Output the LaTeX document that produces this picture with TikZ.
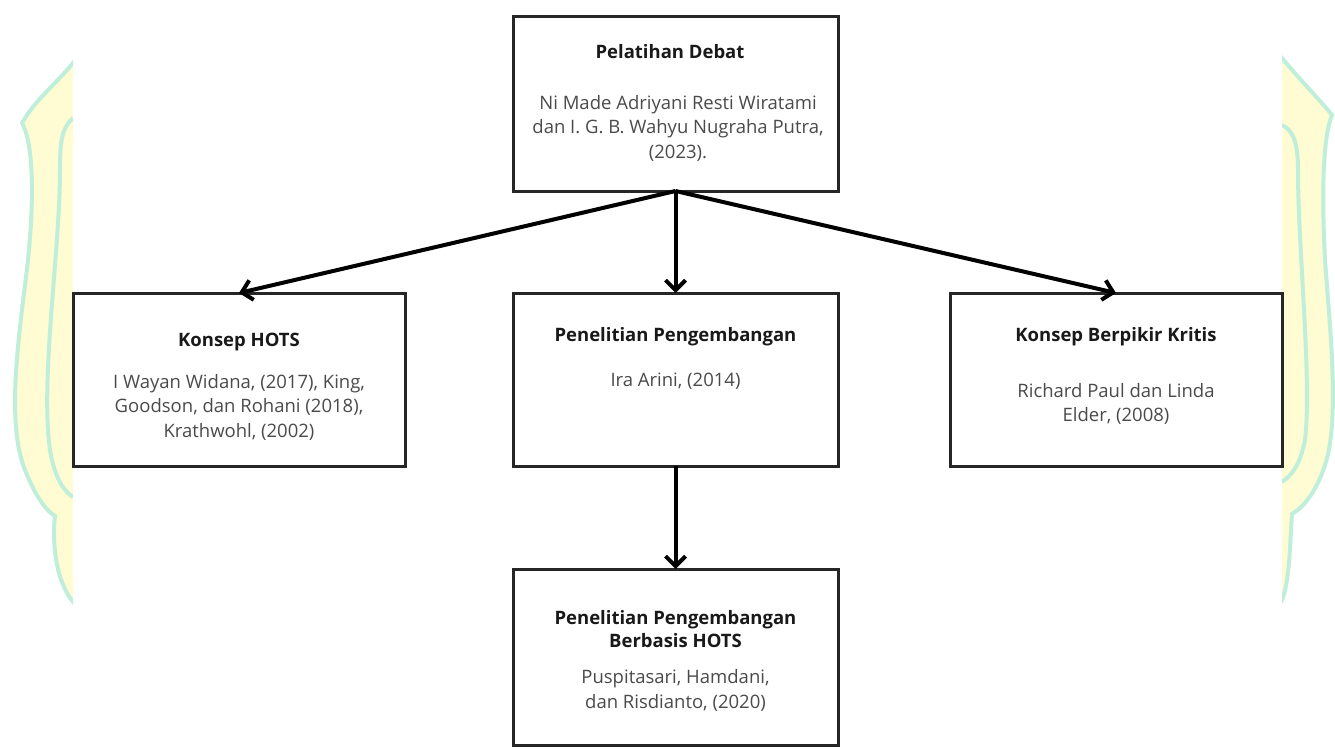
\documentclass[tikz,border=0pt]{standalone}
\usepackage{fontspec}
\setmainfont{Open Sans}
\usetikzlibrary{positioning, arrows.meta}

\definecolor{wmyellow}{HTML}{FFFBD2}
\definecolor{wmaqua}{HTML}{BFEFDA}
\definecolor{refgray}{HTML}{4A4A4A}

\begin{document}
\begin{tikzpicture}[
  x=1pt, y=-1pt,
  font=\fontsize{18.5}{24.5}\selectfont,
  box/.style={draw=black!85, line width=3pt, minimum width=325pt,
              minimum height=174pt, inner sep=0pt, outer sep=0pt},
  widebox/.style={box, minimum width=332pt, minimum height=173pt},
  head/.style={font=\fontsize{18.5}{22.5}\selectfont\bfseries, text=black!90,
               align=center, inner sep=0pt},
  ref/.style={text=refgray, align=center, inner sep=0pt},
  flow/.style={-{Straight Barb[length=10pt, width=20pt]}, line width=4pt},
  wmfill/.style={fill=wmyellow, draw=wmaqua, line width=4pt},
  wmline/.style={draw=wmaqua, line width=4pt},
]
  \useasboundingbox (0,0) rectangle (1335,749);

  % --- watermark, cut at the sides ---
  \begin{scope}
    \clip (0,0) rectangle (73,749);
    \path[wmfill] (80,55) -- (73,63) .. controls (55,85) and (35,100) .. (22,123)
      .. controls (34,145) and (34,200) .. (28,260)
      .. controls (20,330) and (5,420) .. (25,470)
      .. controls (35,495) and (45,510) .. (55,516)
      .. controls (52,540) and (55,580) .. (73,602) -- (80,610) -- cycle;
    \draw[wmline] (73,118) .. controls (62,128) and (60,140) .. (60,170)
      .. controls (60,250) and (40,380) .. (50,450)
      .. controls (55,480) and (65,492) .. (73,497);
  \end{scope}
  \begin{scope}
    \clip (1282,0) rectangle (1335,749);
    \path[wmfill] (1275,50) -- (1282,58) .. controls (1300,80) and (1320,100) .. (1332,115)
      .. controls (1322,140) and (1322,200) .. (1325,260)
      .. controls (1330,330) and (1340,420) .. (1325,465)
      .. controls (1315,495) and (1302,508) .. (1292,514)
      .. controls (1290,540) and (1290,580) .. (1282,600) -- (1275,610) -- cycle;
    \draw[wmline] (1282,125) .. controls (1292,130) and (1298,140) .. (1298,170)
      .. controls (1298,250) and (1312,380) .. (1305,440)
      .. controls (1300,465) and (1292,475) .. (1282,482);
  \end{scope}

  % --- boxes ---
  \node[box] (debat) at (675.5,104) {};
  \node[box, minimum height=173pt, below=102pt of debat] (riset) {};
  \node[widebox, left=108pt of riset] (hots) {};
  \node[widebox, right=112pt of riset] (kritis) {};
  \node[box, minimum height=176pt, below=103pt of riset] (hotsriset) {};

  % --- texts ---
  \node[head] (debathead) at (670,52) {Pelatihan Debat};
  \node[ref] (debatref) at (678,128)
    {Ni Made Adriyani Resti Wiratami\\dan I. G. B. Wahyu Nugraha Putra,\\(2023).};

  \node[head] (hotshead) at (239,342) {Konsep HOTS};
  \node[ref] (hotsref) at (239,407)
    {I Wayan Widana, (2017), King,\\Goodson, dan Rohani (2018),\\Krathwohl, (2002)};

  \node[head] (risethead) at (675.5,337) {Penelitian Pengembangan};
  \node[ref] (risetref) at (675.5,381) {Ira Arini, (2014)};

  \node[head] (kritishead) at (1116,337) {Konsep Berpikir Kritis};
  \node[ref] (kritisref) at (1116,404) {Richard Paul dan Linda\\Elder, (2008)};

  \node[head] (hotsrisethead) at (675.5,629) {Penelitian Pengembangan\\Berbasis HOTS};
  \node[ref] (hotsrisetref) at (675.5,690.5) {Puspitasari, Hamdani,\\dan Risdianto, (2020)};

  % --- arrows ---
  \draw[flow] (debat.south) -- (hots.north);
  \draw[flow] (debat.south) -- (riset.north);
  \draw[flow] (debat.south) -- (kritis.north);
  \draw[flow] (riset.south) -- (hotsriset.north);
\end{tikzpicture}
\end{document}
